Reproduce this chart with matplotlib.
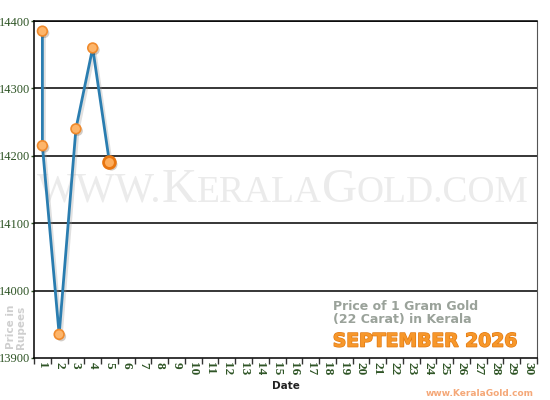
import matplotlib
matplotlib.use("Agg")
import matplotlib.pyplot as plt
import matplotlib.patheffects as pe
from matplotlib.offsetbox import TextArea, HPacker, AnchoredOffsetbox
from matplotlib.ticker import MultipleLocator, FixedLocator

# data (two rates on day 1)
dates = [1, 1, 2, 3, 4, 5]
prices = [14385, 14215, 13935, 14240, 14360, 14190]
days = list(range(1, 31))
yticks = [13900, 14000, 14100, 14200, 14300, 14400]

green = "#2f5526"
fig = plt.figure(figsize=(5.5, 4), dpi=100)
ax = fig.add_axes([34/550, 42/400, 503/550, 337/400])

ax.set_xlim(0.5, 30.5)
ax.set_ylim(13900, 14400)

# grid lines
for v in yticks[1:]:
    ax.axhline(v, color="black", lw=1.1, zorder=1)

# watermark in small caps
parts = [("WWW.", 30), ("K", 35), ("ERALA", 27), ("G", 35), ("OLD.COM", 27)]
boxes = [TextArea(s, textprops=dict(fontsize=sz, family="Liberation Serif",
                                    color="#ebebeb")) for s, sz in parts]
pack = HPacker(children=boxes, align="baseline", pad=0, sep=0)
ab = AnchoredOffsetbox(loc="center", child=pack, frameon=False, pad=0, borderpad=0,
                       bbox_to_anchor=(0.495, 0.50), bbox_transform=ax.transAxes)
ab.set_zorder(0)
ax.add_artist(ab)

shadow = [pe.SimpleLineShadow(offset=(1.5, -1.5), shadow_color="#999999", alpha=0.3), pe.Normal()]
pshadow = [pe.SimplePatchShadow(offset=(1.5, -1.5), alpha=0.25), pe.Normal()]
ax.plot(dates, prices, color="#2a7db0", lw=2, zorder=3, path_effects=shadow)
ax.plot(dates[:-1], prices[:-1], "o", ms=7, mfc="#fdb56a", mec="#f08a2c", mew=1.2, zorder=4,
        path_effects=pshadow)
ax.plot(dates[-1:], prices[-1:], "o", ms=8.5, mfc="#fdad5c", mec="#e8750f", mew=2, zorder=4,
        path_effects=pshadow)

ax.set_yticks(yticks)
ax.set_yticklabels([str(v) for v in yticks], family="Liberation Serif", fontsize=9, color=green)
ax.tick_params(axis="y", length=2, width=1, color=green, pad=1)

ax.xaxis.set_major_locator(FixedLocator(days))
ax.set_xticklabels([str(d) for d in days], rotation=-90, family="Liberation Serif",
                   fontsize=9.5, fontweight="bold", color=green)
ax.xaxis.set_minor_locator(MultipleLocator(1, offset=0.5))
ax.tick_params(axis="x", which="major", length=0, pad=3)
ax.tick_params(axis="x", which="minor", length=4, width=1, color="#333333")

for s in ["left", "bottom", "top"]:
    ax.spines[s].set_color("black")
    ax.spines[s].set_linewidth(1.1)
ax.spines["right"].set_color("#555555")

ax.set_xlabel("Date", fontsize=7.5, fontweight="bold", color="#222222", labelpad=4)

fig.text(16/550, 1 - 327/400, "Price in\nRupees", rotation=90, ha="center", va="center",
         fontsize=7.5, fontweight="bold", color="#cfcfcf", linespacing=1.1)

ax.text(0.594, 0.135, "Price of 1 Gram Gold\n(22 Carat) in Kerala", transform=ax.transAxes,
        ha="left", va="center", fontsize=9, fontweight="bold", color="#9aa29a",
        linespacing=1.0)
ax.text(0.594, 0.05, "SEPTEMBER 2026", transform=ax.transAxes, ha="left", va="center",
        fontsize=13.5, fontweight="bold", color="#f7972a",
        path_effects=[pe.withStroke(linewidth=1, foreground="#e27a12")])

fig.text(534/550, 1 - 394/400, "www.KeralaGold.com", ha="right", va="center",
         fontsize=6.5, fontweight="bold", color="#f5a878")

fig.savefig("out.png", dpi=100)
